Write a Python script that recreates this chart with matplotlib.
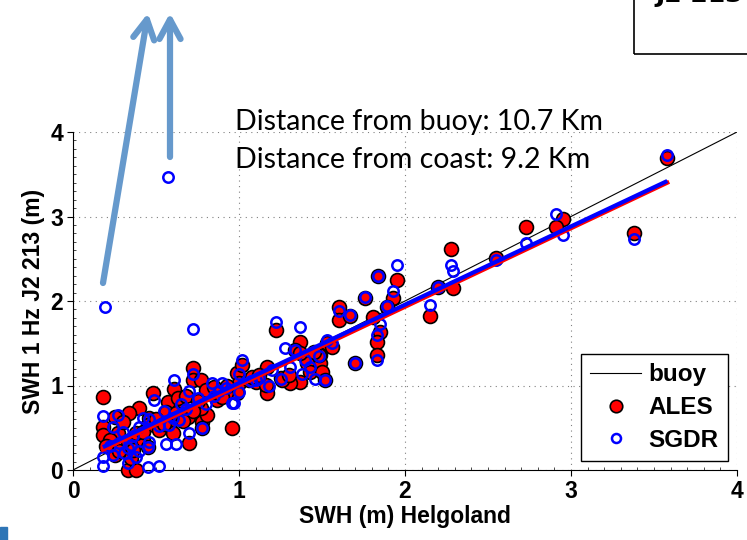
import numpy as np
import matplotlib
matplotlib.use("Agg")
import matplotlib.pyplot as plt
from matplotlib.ticker import MultipleLocator
from matplotlib.patches import Rectangle, FancyArrowPatch
from matplotlib.lines import Line2D

# ALES retracker SWH vs buoy (x = buoy Helgoland, y = altimeter)
ales_x = [3.58, 3.38, 2.95, 2.91, 2.73, 2.55, 2.28, 2.29, 2.20, 2.15, 1.95, 1.84, 1.93, 1.76,
          1.89, 1.60, 1.60, 1.67, 1.81, 1.85, 1.83, 1.83, 1.70, 1.37, 1.49, 1.49, 1.53, 1.41,
          1.43, 1.48, 1.50, 1.52, 1.37, 1.31, 1.25, 1.34, 1.22, 1.37, 1.17, 1.17, 1.17, 1.10,
          0.99, 1.00, 0.99, 0.96, 0.78, 0.78, 1.02, 1.26, 1.16,
          0.18, 0.48, 0.61, 0.72, 0.72, 0.77, 0.57, 0.56, 0.40, 0.34, 0.25, 0.18, 0.18, 0.27,
          0.46, 0.45, 0.42, 0.45, 0.33, 0.70, 0.58, 0.52, 0.60, 0.69, 0.25, 0.33, 0.38, 0.38,
          0.42, 0.81, 0.77, 0.87, 0.92, 0.65, 0.85, 0.30, 0.22, 0.35, 0.50, 0.55, 0.63, 0.68,
          0.75, 0.80, 0.90, 0.28, 0.36, 0.20, 0.62, 0.72, 0.66, 0.85, 0.93, 1.06, 1.08, 1.12,
          1.30, 1.45, 1.56]
ales_y = [3.69, 2.80, 2.97, 2.88, 2.87, 2.51, 2.61, 2.15, 2.16, 1.82, 2.25, 2.30, 2.04, 2.04,
          1.93, 1.93, 1.77, 1.82, 1.81, 1.63, 1.51, 1.36, 1.27, 1.51, 1.36, 1.27, 1.50, 1.27,
          1.16, 1.36, 1.16, 1.07, 1.04, 1.03, 1.09, 1.42, 1.66, 1.39, 0.97, 0.91, 1.22, 1.04,
          1.15, 1.03, 0.91, 0.50, 0.57, 0.50, 1.24, 1.07, 1.01,
          0.86, 0.91, 0.96, 1.21, 1.07, 1.07, 0.80, 0.69, 0.73, 0.67, 0.63, 0.51, 0.41, 0.44,
          0.62, 0.53, 0.36, 0.27, 0.32, 0.32, 0.52, 0.47, 0.44, 0.63, 0.18, 0.00, 0.00, 0.44,
          0.45, 0.65, 0.73, 0.83, 0.91, 0.74, 0.92, 0.57, 0.35, 0.14, 0.60, 0.55, 0.85, 0.88,
          0.82, 0.95, 0.86, 0.22, 0.24, 0.28, 0.68, 0.70, 0.58, 0.98, 1.00, 1.06, 1.10, 1.12,
          1.12, 1.40, 1.46]

# SGDR retracker
sgdr_x = [0.19, 0.57, 3.58, 3.38, 2.91, 2.95, 2.73, 2.55, 2.28, 2.29, 2.20, 2.15, 1.95, 1.84,
          1.93, 1.76, 1.89, 1.60, 1.67, 1.83, 1.83, 1.85, 1.70, 1.37, 1.53, 1.22, 1.28, 1.43,
          1.48, 1.52, 1.25, 1.10, 1.02, 0.97, 0.78, 0.72, 0.49, 0.61, 0.72, 0.27, 0.18, 0.24,
          0.46, 0.40, 0.45, 0.35, 0.56, 0.62, 0.70, 0.58, 0.64, 0.18, 0.18, 0.24, 0.31, 0.33,
          0.38, 0.45, 0.52, 0.33, 0.46, 0.84, 0.90, 0.96, 1.00, 1.00, 1.18, 1.31, 1.34, 1.38,
          1.07, 0.30, 0.55, 0.65, 0.75, 0.80, 0.88, 0.70, 0.42, 0.36, 0.60, 0.85, 0.28, 0.52,
          0.40, 1.12, 1.46, 1.56, 1.40, 1.20, 0.22, 0.68, 0.92]
sgdr_y = [1.93, 3.47, 3.73, 2.73, 3.03, 2.78, 2.69, 2.48, 2.43, 2.36, 2.17, 1.95, 2.43, 2.30,
          2.12, 2.05, 1.94, 1.88, 1.83, 1.30, 1.60, 1.73, 1.27, 1.69, 1.54, 1.75, 1.44, 1.22,
          1.35, 1.07, 1.08, 1.07, 1.30, 0.79, 0.50, 1.67, 0.83, 1.07, 1.14, 0.65, 0.64, 0.51,
          0.60, 0.51, 0.27, 0.30, 0.31, 0.31, 0.44, 0.53, 0.59, 0.15, 0.05, 0.18, 0.20, 0.08,
          0.15, 0.04, 0.05, 0.26, 0.33, 1.03, 1.03, 0.79, 1.14, 0.92, 1.00, 1.22, 1.42, 1.14,
          1.05, 0.45, 0.70, 0.78, 0.85, 0.78, 0.93, 0.93, 0.62, 0.40, 0.62, 0.88, 0.32, 0.52,
          0.22, 1.09, 1.08, 1.50, 1.30, 1.18, 0.28, 0.72, 0.97]

# fitted lines, end points
fit_x = [0.18, 3.58]
ales_fit = [0.24, 3.40]
sgdr_fit = [0.27, 3.42]
buoy_line = [0, 4]

ticks = [0, 1, 2, 3, 4]
bold_font = ['Liberation Sans', 'DejaVu Sans']

fig = plt.figure(figsize=(7.47, 5.40), dpi=100)
ax = fig.add_axes([73/747, 70/540, 664/747, 338/540])

ax.plot(buoy_line, buoy_line, 'k', lw=0.8, zorder=2)
ax.plot(ales_x, ales_y, 'o', ms=10, mfc='red', mec='black', mew=1.2, zorder=3, clip_on=False)
ax.plot(sgdr_x, sgdr_y, 'o', ms=7.5, mfc='none', mec='blue', mew=1.8, zorder=4, clip_on=False)
ax.plot(fit_x, ales_fit, color='red', lw=3, zorder=5)
ax.plot(fit_x, sgdr_fit, color='blue', lw=3, zorder=6, solid_capstyle='butt')

ax.set_xlim(0, 4)
ax.set_ylim(0, 4)
ax.set_xticks(ticks)
ax.set_yticks(ticks)
ax.xaxis.set_minor_locator(MultipleLocator(0.1))
ax.yaxis.set_minor_locator(MultipleLocator(0.1))
ax.tick_params(which='major', direction='out', length=4, labelsize=16.5, pad=3)
ax.tick_params(which='minor', direction='in', length=2, width=0.5)
for lab in ax.get_xticklabels() + ax.get_yticklabels():
    lab.set_fontweight('bold')
    lab.set_family(bold_font)
ax.grid(True, which='major', ls=(0, (1, 4)), color='gray', lw=0.8)
ax.spines['top'].set_visible(False)
ax.spines['right'].set_visible(False)

ax.set_xlabel('SWH (m) Helgoland', fontsize=16.5, fontweight='bold',
              family=bold_font, labelpad=2)
ax.set_ylabel('SWH 1 Hz J2 213 (m)', fontsize=16.5, fontweight='bold',
              family=bold_font, labelpad=4)

handles = [Line2D([], [], color='k', lw=0.8),
           Line2D([], [], ls='none', marker='o', ms=9, mfc='red', mec='black', mew=1.2),
           Line2D([], [], ls='none', marker='o', ms=6.5, mfc='none', mec='blue', mew=1.8)]
leg = ax.legend(handles, ['buoy', 'ALES', 'SGDR'], loc='lower right', fancybox=False,
                edgecolor='black', framealpha=1, handlelength=2.1, borderaxespad=0.35,
                prop={'weight': 'bold', 'size': 17.5, 'family': bold_font},
                labelspacing=0.4, handletextpad=0.3, borderpad=0.4)
leg.get_frame().set_linewidth(1.0)

fig.text(235/747, 1 - 130/540, 'Distance from buoy: 10.7 Km', fontsize=20.5,
         family='Lato', va='baseline', ha='left')
fig.text(235/747, 1 - 168/540, 'Distance from coast: 9.2 Km', fontsize=20.5,
         family='Lato', va='baseline', ha='left')

# slide arrows pointing to outliers
arrow_color = '#6699CC'
for start, end in [((103, 283), (148, 13)), ((170, 157), (170, 13))]:
    fig.patches.append(FancyArrowPatch(
        (start[0]/747, 1 - start[1]/540), (end[0]/747, 1 - end[1]/540),
        transform=fig.transFigure, shrinkA=0, shrinkB=0,
        arrowstyle='->,head_length=0.7,head_width=0.38', mutation_scale=20,
        color=arrow_color, lw=4.5))

# partial text box at the top right corner
fig.patches.append(Rectangle((634/747, 1 - 54/540), 0.2, 0.2, transform=fig.transFigure,
                             fill=False, edgecolor='black', lw=1.2))
fig.text(655/747, 1 - 2/540, 'J2 213', fontsize=18, fontweight='bold', va='baseline')
fig.patches.append(Rectangle((0, 0), 7/747, 13/540, transform=fig.transFigure,
                             color='#2E75B6'))

fig.savefig('out.png', dpi=100)
